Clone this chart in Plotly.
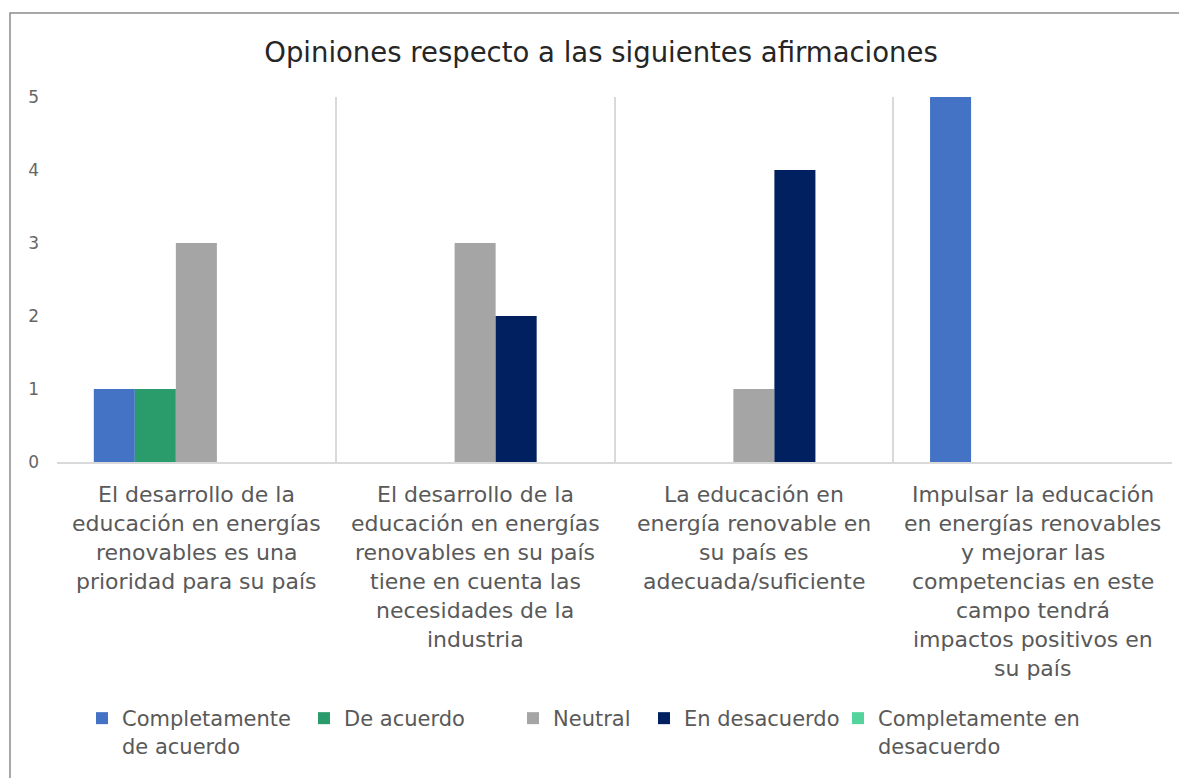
import plotly.graph_objects as go

categories = [
    "El desarrollo de la<br>educación en energías<br>renovables es una<br>prioridad para su país",
    "El desarrollo de la<br>educación en energías<br>renovables en su país<br>tiene en cuenta las<br>necesidades de la<br>industria",
    "La educación en<br>energía renovable en<br>su país es<br>adecuada/suficiente",
    "Impulsar la educación<br>en energías renovables<br>y mejorar las<br>competencias en este<br>campo tendrá<br>impactos positivos en<br>su país",
]
cat_keys = ["C1", "C2", "C3", "C4"]

series_names = [
    "Completamente<br>de acuerdo",
    "De acuerdo",
    "Neutral",
    "En desacuerdo",
    "Completamente en<br>desacuerdo",
]
completamente_de_acuerdo = [1, 0, 0, 5]
de_acuerdo = [1, 0, 0, 0]
neutral = [3, 3, 1, 0]
en_desacuerdo = [0, 2, 4, 0]
completamente_en_desacuerdo = [0, 0, 0, 0]
series_values = [completamente_de_acuerdo, de_acuerdo, neutral, en_desacuerdo, completamente_en_desacuerdo]
colors = ["#4472C4", "#2A9B6B", "#A5A5A5", "#002060", "#55D39D"]

y_ticks = [0, 1, 2, 3, 4, 5]

FONT = "DejaVu Sans"
TXT = "#595959"

# page has an 8px body margin; figure sized to fill the remaining window
W, H = 1179, 770
L, R, T, B = 49, 15, 89, 316

# legend entry positions (figure px, left edge of each legend box)
legend_x_px = [74, 296, 505, 636, 830]
legend_ids = ["legend", "legend2", "legend3", "legend4", "legend5"]

fig = go.Figure()
for name, vals, col, lid in zip(series_names, series_values, colors, legend_ids):
    fig.add_trace(go.Bar(x=cat_keys, y=vals, name=name, legend=lid,
                         marker=dict(color=col, line=dict(width=0))))

annotations = []
for key, label in zip(cat_keys, categories):
    for i, line in enumerate(label.split("<br>")):
        annotations.append(dict(
            x=key, xref="x", y=0, yref="paper", yanchor="middle", xanchor="center",
            yshift=-32 - 29 * i, text=line, showarrow=False,
            font=dict(family=FONT, size=22, color=TXT),
        ))

legend_layouts = {}
for lid, xp in zip(legend_ids, legend_x_px):
    legend_layouts[lid] = dict(
        orientation="h", xref="container", yref="container", x=xp / W, y=1 - 690 / H,
        xanchor="left", yanchor="top", valign="top", bgcolor="rgba(0,0,0,0)",
        font=dict(family=FONT, size=21, color=TXT), itemwidth=30,
    )

fig.update_layout(
    width=W, height=H,
    margin=dict(l=L, r=R, t=T, b=B),
    paper_bgcolor="white", plot_bgcolor="white",
    barmode="group", bargap=0.264, bargroupgap=0,
    font=dict(family=FONT, color=TXT),
    title=dict(text="Opiniones respecto a las siguientes afirmaciones",
               x=593 / W, xanchor="center", y=1 - 44 / H, yanchor="middle",
               font=dict(family=FONT, size=27.5, color="#262626")),
    xaxis=dict(showticklabels=False, showgrid=True, gridcolor="#D9D9D9", gridwidth=1.5,
               tickson="boundaries", ticks="", showline=True, linecolor="#D9D9D9", linewidth=1.5,
               zeroline=False),
    yaxis=dict(range=[0, 5], tickvals=y_ticks, showgrid=False, zeroline=False, showline=False,
               tickfont=dict(family=FONT, size=17, color="#666666"), ticklabelstandoff=17),
    showlegend=True,
    annotations=annotations,
    shapes=[dict(type="rect", xref="paper", yref="paper",
                 x0=(2 - L) / (W - L - R), x1=1.05,
                 y0=-1.0, y1=1 + (T - 5) / (H - T - B),
                 line=dict(color="#8C8C8C", width=1.5), fillcolor="rgba(0,0,0,0)", layer="below")],
    **legend_layouts,
)

fig.write_html("out.html")
